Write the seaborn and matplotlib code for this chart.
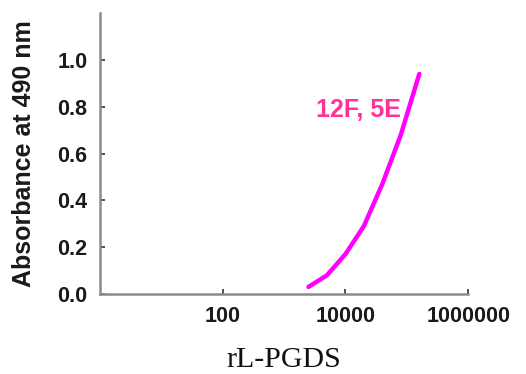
import pandas as pd
import seaborn as sns
import matplotlib.pyplot as plt

# dilution series of rL-PGDS and measured absorbance
dilution = [2500, 5000, 10000, 20000, 40000, 80000, 160000]
absorbance = [0.03, 0.08, 0.17, 0.29, 0.47, 0.68, 0.94]
series_label = "12F, 5E"
xticks = [100, 10000, 1000000]
xtick_labels = ["100", "10000", "1000000"]
yticks = [0.0, 0.2, 0.4, 0.6, 0.8, 1.0]

df = pd.DataFrame({"dilution": dilution, "absorbance": absorbance})

sns.set_style("ticks")
plt.rcParams["font.family"] = ["Liberation Sans", "DejaVu Sans"]

fig = plt.figure(figsize=(5.26, 3.74), dpi=100)
ax = fig.add_axes([0.19, 0.214, 0.70, 0.751])

sns.lineplot(data=df, x="dilution", y="absorbance", color="#ff00ff",
             linewidth=3.2, ax=ax, solid_capstyle="round")
ax.set_xscale("log")
ax.set_xlim(1, 1000000)
ax.set_ylim(0, 1.2)
ax.set_xticks(xticks)
ax.set_xticklabels(xtick_labels)
ax.set_yticks(yticks)
ax.set_yticklabels([f"{v:.1f}" for v in yticks])
ax.minorticks_off()

for s in ["top", "right"]:
    ax.spines[s].set_visible(False)
for s in ["left", "bottom"]:
    ax.spines[s].set_color("#8a8a8a")
    ax.spines[s].set_linewidth(1.8)

ax.tick_params(direction="in", length=3.5, width=1.2, color="#333333",
               labelsize=15.5, pad=9)
for t in ax.get_xticklabels() + ax.get_yticklabels():
    t.set_fontweight("bold")
    t.set_color("#1a1a1a")

ax.set_ylabel("Absorbance at 490 nm", fontsize=18, fontweight="bold",
              color="#1a1a1a", labelpad=15)
ax.set_xlabel("rL-PGDS", fontsize=21.5, family=["Liberation Serif", "DejaVu Serif"],
              color="#111111", labelpad=14)

ax.text(3300, 0.787, series_label, color="#ff3399", fontsize=18,
        fontweight="bold", ha="left", va="center")

fig.savefig("out.png", dpi=100)
